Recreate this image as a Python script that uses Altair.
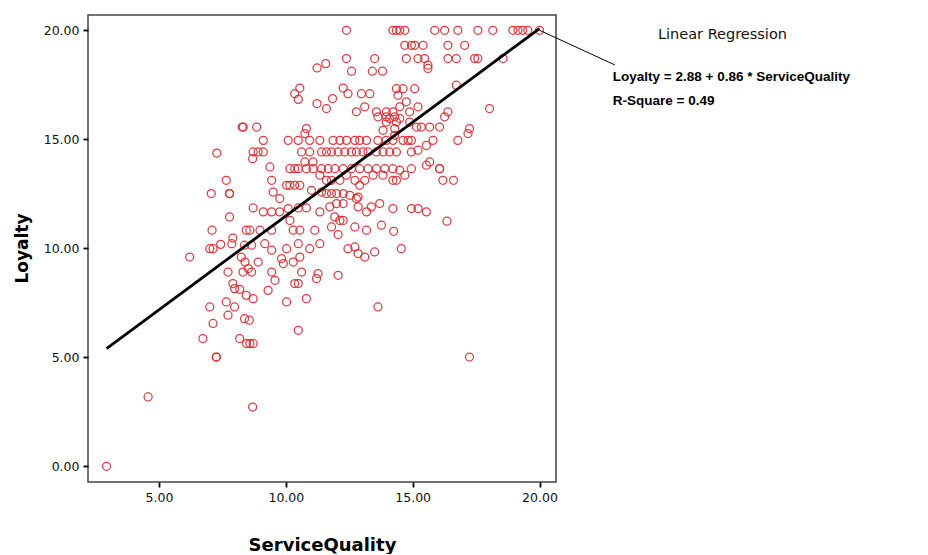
import altair as alt
import pandas as pd

# ServiceQuality (x) and Loyalty (y) values
service_quality = [
    8.28, 7.28, 7.65, 7.06, 7.78, 7.78, 7.78, 7.09, 7.91, 7.87, 7.0, 7.13, 7.43, 8.44, 8.37, 6.21, 8.24,
    7.72, 8.31, 7.91, 7.98, 8.18, 8.44, 7.65, 7.0, 7.98, 7.72, 7.13, 8.37,
    6.73, 8.18, 7.26, 7.26, 4.57, 2.93, 8.56, 10.49, 8.45, 8.58, 8.71, 8.69, 17.24,
    14.22, 14.49, 14.69, 14.95, 15.54, 16.06, 16.06, 16.19, 16.61, 14.95, 15.21, 15.54, 16.35, 14.25, 14.55,
    12.39, 14.22, 14.36, 14.49, 14.69, 15.87, 16.26, 16.78, 17.57, 18.16, 18.95, 19.15, 19.34, 19.54, 20.0,
    14.69, 14.95, 15.08, 15.41, 16.39, 17.05,
    12.39, 13.5, 14.75, 15.21, 15.47, 16.39, 16.72, 17.44, 17.57, 18.56,
    15.6, 15.6, 16.72, 14.36, 14.62, 15.08, 14.42, 18.03, 14.75, 14.49, 15.21, 14.22, 14.88, 16.39, 16.26,
    14.09, 14.49, 14.88, 15.15, 15.34, 15.67, 16.06, 17.24, 17.18, 16.78, 14.29, 14.62, 14.82, 14.95, 15.8,
    15.54, 15.21, 14.95, 14.36, 14.09, 15.67,
    11.57, 11.23, 12.59, 13.41, 13.81, 10.55, 10.35, 10.49, 12.26, 12.45, 12.98, 13.31, 11.84, 11.23, 11.6,
    12.78, 13.11, 13.57, 13.96, 13.63, 13.96, 14.29, 13.96, 14.36,
    8.32, 8.85, 10.81, 10.75, 13.83, 14.29, 9.11,
    10.09, 10.49, 10.94, 11.34, 11.86, 12.13, 12.39, 12.72, 12.91, 13.18, 13.63, 13.96, 14.22,
    8.71, 8.91, 9.11, 10.62, 10.94, 11.41, 11.6, 11.8, 12.06, 12.32, 12.59, 12.78, 13.04, 13.24, 13.57, 13.83,
    8.69, 9.37, 10.16, 10.35, 10.75, 11.07,
    10.49, 10.81, 11.07, 11.41, 11.67, 11.93, 12.26, 12.59, 12.91, 13.24, 13.57, 13.9, 14.22,
    9.44, 10.03, 10.16, 10.35, 10.55, 11.01, 11.34, 11.6, 11.8, 12.13, 12.39, 12.72, 12.91, 13.11, 13.44, 13.83, 14.36,
    9.5, 9.76, 11.41, 11.6, 11.8, 12.0, 12.26, 12.52, 12.85,
    8.71, 9.11, 9.44, 9.76, 10.09, 10.49, 10.81, 11.34, 11.73, 12.0, 12.26, 12.78, 12.85, 13.18, 13.37, 13.7, 14.22,
    10.16, 10.29, 10.55, 11.14, 11.93, 12.13, 12.26, 11.8, 12.72, 13.18, 13.77, 8.58, 8.98, 9.44,
    12.06, 8.65, 9.17, 9.44, 10.03, 10.49, 10.94, 11.34, 12.45, 12.72, 12.85, 13.5, 13.11,
    8.39, 8.91, 9.83, 9.9, 10.29, 10.55,
    8.52, 8.65, 9.44, 10.62, 11.27, 11.21, 12.06, 9.57, 10.35, 10.49,
    9.3, 8.71, 10.03, 10.81, 13.63,
]
loyalty = [
    15.56, 14.37, 13.12, 12.51, 12.51, 12.51, 11.44, 10.83, 10.47, 10.21, 9.98, 9.98, 10.18, 10.83, 10.14, 9.6, 9.6,
    8.91, 8.91, 8.38, 8.15, 8.12, 7.84, 7.54, 7.31, 7.31, 6.93, 6.55, 6.77,
    5.86, 5.86, 5.01, 5.01, 3.18, 0.0, 6.70, 6.24, 5.63, 5.63, 5.63, 2.72, 5.01,
    13.12, 13.58, 13.35, 13.65, 13.81, 13.65, 13.65, 13.12, 13.12, 11.82, 11.82, 11.67, 11.24, 10.78, 9.98,
    20.0, 20.0, 20.0, 20.0, 20.0, 20.0, 20.0, 20.0, 20.0, 20.0, 20.0, 20.0, 20.0, 20.0, 20.0,
    19.31, 19.31, 19.31, 19.31, 19.31, 19.31,
    18.7, 18.7, 18.7, 18.7, 18.7, 18.7, 18.7, 18.7, 18.7, 18.7,
    18.4, 18.25, 17.48, 17.32, 17.32, 17.32, 17.02, 16.41, 16.72, 16.49, 16.49, 16.26, 16.26, 16.26, 16.03,
    15.95, 15.95, 15.79, 15.56, 15.56, 15.56, 15.56, 15.49, 15.26, 14.95, 15.18, 14.95, 14.95, 14.95, 14.95,
    14.72, 14.5, 14.42, 14.42, 14.42, 13.96,
    18.47, 18.27, 18.12, 18.12, 18.12, 17.35, 17.09, 16.83, 17.35, 17.09, 17.09, 17.09, 16.87, 16.64, 16.41,
    16.26, 16.49, 16.26, 16.26, 16.03, 16.03, 16.03, 15.79, 15.79,
    15.56, 15.56, 15.49, 15.26, 15.41, 15.49, 14.95,
    14.95, 14.95, 14.95, 14.95, 14.95, 14.95, 14.95, 14.95, 14.95, 14.95, 14.95, 14.95, 14.95,
    14.42, 14.42, 14.42, 14.42, 14.42, 14.42, 14.42, 14.42, 14.42, 14.42, 14.42, 14.42, 14.42, 14.42, 14.42, 14.42,
    14.11, 13.73, 13.65, 13.65, 13.96, 13.96,
    13.65, 13.65, 13.65, 13.65, 13.65, 13.65, 13.65, 13.65, 13.65, 13.65, 13.65, 13.65, 13.65,
    13.12, 12.89, 12.89, 12.89, 12.89, 12.66, 13.35, 13.12, 13.12, 13.12, 13.35, 13.12, 12.89, 13.12, 13.35, 13.35, 13.12,
    12.58, 12.28, 12.58, 12.51, 12.51, 12.51, 12.51, 12.43, 12.35,
    11.85, 11.67, 11.67, 11.67, 11.82, 11.85, 11.85, 11.67, 11.9, 12.05, 12.05, 12.28, 11.9, 11.67, 11.9, 12.05, 11.82,
    11.28, 10.83, 10.83, 10.83, 11.44, 11.28, 11.28, 10.98, 10.98, 10.83, 11.06, 10.83, 10.83, 10.83,
    10.63, 10.14, 10.21, 9.91, 9.98, 10.21, 9.98, 10.21, 9.98, 10.06, 9.76, 9.83, 9.6,
    9.37, 9.37, 9.53, 9.3, 9.37, 9.6,
    9.07, 8.91, 8.91, 8.91, 8.84, 8.61, 8.76, 8.53, 8.38, 8.38,
    8.07, 7.69, 7.54, 7.69, 7.31,
]

# Fit line as printed on the chart
intercept = 2.88
slope = 0.86
fit_x = [min(service_quality), max(service_quality)]

# Annotation texts
note_labels = ["Linear Regression", "Loyalty = 2.88 + 0.86 * ServiceQuality", "R-Square = 0.49"]
note_x = [24.67, 22.89, 22.89]
note_y = [19.78, 17.86, 16.75]
leader_x = [20.0, 22.97]
leader_y = [20.0, 18.41]

x_domain = [2.2, 20.65]
y_domain = [-0.72, 20.7]

pts = pd.DataFrame({"ServiceQuality": service_quality, "Loyalty": loyalty})
fit = pd.DataFrame({"ServiceQuality": fit_x, "Loyalty": [intercept + slope * v for v in fit_x]})
notes = pd.DataFrame({"x": note_x, "y": note_y, "label": note_labels})
leader = pd.DataFrame({"x": leader_x, "y": leader_y})

xs = alt.Scale(domain=x_domain, nice=False, zero=False)
ys = alt.Scale(domain=y_domain, nice=False, zero=False)

x_axis = alt.Axis(values=[5, 10, 15, 20], format=".2f", title="ServiceQuality",
                  titleY=68, titleBaseline="alphabetic")
y_axis = alt.Axis(values=[0, 5, 10, 15, 20], format=".2f", title="Loyalty",
                  titleX=-57, titleY=233, titleBaseline="bottom", titleAngle=270,
                  titleFontSize=17)

points = alt.Chart(pts).mark_point(shape="circle", filled=False, size=64, strokeWidth=1.25,
                                   color="#e0262b", opacity=0.9).encode(
    x=alt.X("ServiceQuality:Q", scale=xs, axis=x_axis),
    y=alt.Y("Loyalty:Q", scale=ys, axis=y_axis),
)

line = alt.Chart(fit).mark_line(color="black", strokeWidth=2.8).encode(
    x=alt.X("ServiceQuality:Q", scale=xs),
    y=alt.Y("Loyalty:Q", scale=ys),
)

lead = alt.Chart(leader).mark_line(color="black", strokeWidth=1).encode(
    x=alt.X("x:Q", scale=xs),
    y=alt.Y("y:Q", scale=ys),
)

reg_title = alt.Chart(notes.iloc[[0]]).mark_text(align="left", baseline="middle", font="DejaVu Sans",
                                                 fontSize=14.5, color="#111").encode(
    x=alt.X("x:Q", scale=xs), y=alt.Y("y:Q", scale=ys), text="label:N")
reg_eq = alt.Chart(notes.iloc[1:]).mark_text(align="left", baseline="middle", font="Liberation Sans",
                                             fontSize=13.5, fontWeight="bold", color="#000").encode(
    x=alt.X("x:Q", scale=xs), y=alt.Y("y:Q", scale=ys), text="label:N")

chart = alt.layer(points, line, lead, reg_title, reg_eq).properties(
    width=468, height=467,
    autosize=alt.AutoSizeParams(type="none"),
    padding={"left": 80, "top": 7, "right": 360, "bottom": 72},
    background="white",
).configure_view(stroke="#444444", strokeWidth=1.5).configure_axis(
    domain=False, grid=False, tickColor="black", tickSize=5, tickWidth=1.8,
    labelFont="DejaVu Sans", labelFontSize=12.5, labelColor="#111", labelPadding=4,
    titleFont="DejaVu Sans", titleFontSize=18, titleFontWeight="bold", titleColor="#000",
)

chart.save("out.html", embed_options={"renderer": "svg", "actions": False})
